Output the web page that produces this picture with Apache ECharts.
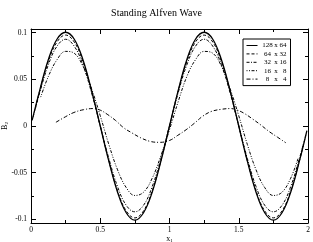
<!DOCTYPE html>
<html>
<head>
<meta charset="utf-8">
<script src="https://cdn.jsdelivr.net/npm/echarts@6/dist/echarts.min.js"></script>
<style>
html,body{margin:0;padding:0;background:#fff;}
#c{width:313px;height:242px;}
</style>
</head>
<body>
<div id="c"></div>
<script>
// ---- data ----
var seriesNames = ['128 x 64', '64 x 32', '32 x 16', '16 x  8', '8 x  4'];

var x128 = [0.008, 0.0625, 0.125, 0.1875, 0.25, 0.3125, 0.375, 0.4375, 0.5, 0.5625, 0.625, 0.6875, 0.75, 0.8125, 0.875, 0.9375, 1.0, 1.0625, 1.125, 1.1875, 1.25, 1.3125, 1.375, 1.4375, 1.5, 1.5625, 1.625, 1.6875, 1.75, 1.8125, 1.875, 1.9375, 1.992];
var y128 = [0.006, 0.038, 0.071, 0.093, 0.1005, 0.093, 0.071, 0.038, 0.0, -0.038, -0.071, -0.093, -0.101, -0.093, -0.071, -0.038, 0.0, 0.038, 0.071, 0.093, 0.1005, 0.093, 0.071, 0.038, 0.0, -0.038, -0.071, -0.093, -0.101, -0.093, -0.071, -0.038, -0.005];

var x64 = [0.0156, 0.0625, 0.125, 0.1875, 0.25, 0.3125, 0.375, 0.4375, 0.5, 0.5625, 0.625, 0.6875, 0.75, 0.8125, 0.875, 0.9375, 1.0, 1.0625, 1.125, 1.1875, 1.25, 1.3125, 1.375, 1.4375, 1.5, 1.5625, 1.625, 1.6875, 1.75, 1.8125, 1.875, 1.9375, 1.984];
var y64 = [0.0095, 0.0375, 0.069, 0.090, 0.0975, 0.090, 0.069, 0.0375, 0.0, -0.0375, -0.0695, -0.091, -0.0985, -0.091, -0.0695, -0.0375, 0.0, 0.0375, 0.069, 0.090, 0.0975, 0.090, 0.069, 0.0375, 0.0, -0.0375, -0.0695, -0.091, -0.0985, -0.091, -0.0695, -0.0375, -0.0095];

var x32 = [0.031, 0.0625, 0.125, 0.1875, 0.25, 0.3125, 0.375, 0.4375, 0.5, 0.5625, 0.625, 0.6875, 0.75, 0.8125, 0.875, 0.9375, 1.0, 1.0625, 1.125, 1.1875, 1.25, 1.3125, 1.375, 1.4375, 1.5, 1.5625, 1.625, 1.6875, 1.75, 1.8125, 1.875, 1.9375, 1.969];
var y32 = [0.018, 0.0355, 0.0655, 0.0855, 0.093, 0.0855, 0.0655, 0.0355, 0.0, -0.035, -0.065, -0.085, -0.092, -0.085, -0.065, -0.035, 0.0, 0.0355, 0.0655, 0.0855, 0.093, 0.0855, 0.0655, 0.0355, 0.0, -0.035, -0.065, -0.085, -0.092, -0.085, -0.065, -0.035, -0.018];

var x16 = [0.07, 0.125, 0.1875, 0.25, 0.3125, 0.375, 0.4375, 0.5, 0.5625, 0.625, 0.6875, 0.75, 0.8125, 0.875, 0.9375, 1.0, 1.0625, 1.125, 1.1875, 1.25, 1.3125, 1.375, 1.4375, 1.5, 1.5625, 1.625, 1.6875, 1.75, 1.8125, 1.875, 1.93];
var y16 = [0.031, 0.053, 0.071, 0.080, 0.078, 0.064, 0.040, 0.011, -0.020, -0.047, -0.066, -0.0745, -0.071, -0.056, -0.032, -0.004, 0.026, 0.053, 0.071, 0.080, 0.078, 0.064, 0.040, 0.011, -0.020, -0.047, -0.066, -0.0745, -0.071, -0.056, -0.034];

var x8 = [0.18, 0.25, 0.31, 0.38, 0.45, 0.5, 0.55, 0.61, 0.67, 0.73, 0.79, 0.86, 0.93, 1.0, 1.06, 1.12, 1.18, 1.24, 1.3, 1.37, 1.44, 1.49, 1.54, 1.6, 1.66, 1.72, 1.78, 1.84];
var y8 = [0.004, 0.010, 0.0145, 0.0175, 0.0187, 0.017, 0.0126, 0.006, -0.002, -0.0075, -0.0125, -0.0165, -0.0175, -0.0155, -0.01, -0.004, 0.003, 0.0105, 0.0155, 0.0178, 0.0187, 0.017, 0.0135, 0.0075, 0.001, -0.006, -0.012, -0.018];

var xMajorTicks = [0, 0.5, 1, 1.5, 2];
var yMajorTicks = [-0.1, -0.05, 0, 0.05, 0.1];
var yMinorTicks = [-0.075, -0.025, 0.025, 0.075];

// ---- chart ----
var FONT = '"Liberation Serif", "DejaVu Serif", serif';
function pairs(xs, ys) { return xs.map(function (x, i) { return [x, ys[i]]; }); }
var dashes = ['solid', [3, 2], [3, 1.5, 1, 1.5], [1, 1.5, 1, 1.5, 3, 1.5], [4, 2, 1, 2]];
var widths = [1.3, 1, 1, 1, 1];
var xsAll = [x128, x64, x32, x16, x8];
var ysAll = [y128, y64, y32, y16, y8];

var yMin = -0.104, yMax = 0.104;

function xAxisCfg(pos, showLabel) {
  return {
    type: 'value', position: pos, min: 0, max: 2, interval: 0.5,
    axisLine: { show: true, onZero: false, lineStyle: { color: '#000', width: 1 } },
    axisTick: { show: true, inside: true, length: 5, lineStyle: { color: '#000' } },
    minorTick: { show: true, splitNumber: 2, length: 3, lineStyle: { color: '#000' } },
    splitLine: { show: false },
    axisLabel: { show: showLabel, customValues: xMajorTicks, fontFamily: FONT, fontSize: 7.5, color: '#000', margin: 3 },
    name: showLabel ? '{n|x}{s|1}' : '',
    nameLocation: 'middle', nameGap: 11, nameMoveOverlap: false,
    nameTextStyle: { fontFamily: FONT, fontSize: 8, color: '#000',
      rich: { n: { fontFamily: FONT, fontSize: 8, color: '#000' },
              s: { fontFamily: FONT, fontSize: 5, color: '#000', padding: [4, 0, 0, 0] } } }
  };
}
function yAxisCfg(pos, major, showLabel) {
  var ticks = major ? yMajorTicks : yMinorTicks;
  return {
    type: 'value', position: pos, min: yMin, max: yMax, offset: 0,
    axisLine: { show: major, onZero: false, lineStyle: { color: '#000', width: 1 } },
    axisTick: { show: true, inside: true, length: major ? 5 : 3, customValues: ticks, lineStyle: { color: '#000' } },
    splitLine: { show: false },
    axisLabel: { show: showLabel, customValues: ticks, fontFamily: FONT, fontSize: 7.5, color: '#000', margin: 4 },
    name: showLabel ? '{n|B}{s|2}' : '',
    nameLocation: 'middle', nameGap: 22, nameRotate: 90, nameMoveOverlap: false,
    nameTextStyle: { fontFamily: FONT, fontSize: 8, color: '#000',
      rich: { n: { fontFamily: FONT, fontSize: 8, color: '#000' },
              s: { fontFamily: FONT, fontSize: 5, color: '#000', padding: [4, 0, 0, 0] } } }
  };
}

var series = seriesNames.map(function (nm, i) {
  return {
    name: nm, type: 'line', xAxisIndex: 0, yAxisIndex: 0,
    data: pairs(xsAll[i], ysAll[i]),
    smooth: 0.4, showSymbol: false, symbol: 'none',
    lineStyle: { color: '#000', width: widths[i], type: dashes[i] },
    itemStyle: { color: '#000' },
    animation: false
  };
});

var chart = echarts.init(document.getElementById('c'), null, { renderer: 'canvas' });
chart.setOption({
  animation: false,
  backgroundColor: '#fff',
  title: { text: 'Standing Alfven Wave', left: 'center', top: 3,
    textStyle: { fontFamily: FONT, fontSize: 10, fontWeight: 'normal', color: '#000' } },
  grid: { left: 31, right: 5, top: 29, bottom: 19, containLabel: false, outerBoundsMode: 'none' },
  xAxis: [xAxisCfg('bottom', true), xAxisCfg('top', false)],
  yAxis: [yAxisCfg('left', true, true), yAxisCfg('left', false, false),
          yAxisCfg('right', true, false), yAxisCfg('right', false, false)],
  legend: {
    orient: 'vertical', left: 243, top: 39,
    backgroundColor: '#fff', borderColor: '#000', borderWidth: 1, borderRadius: 0,
    padding: [3, 4, 3, 3],
    itemWidth: 11, itemHeight: 7, itemGap: 1.4,
    itemStyle: { color: 'rgba(0,0,0,0)', borderColor: 'rgba(0,0,0,0)', borderWidth: 0, opacity: 0 },
    lineStyle: { width: 1 },
    data: seriesNames,
    formatter: function (name) {
      var p = name.split('x');
      return '{a|' + p[0].trim() + '} x {b|' + p[1].trim() + '}';
    },
    textStyle: { fontFamily: FONT, fontSize: 7, color: '#000',
      rich: { a: { fontFamily: FONT, fontSize: 7, width: 10, align: 'right', color: '#000' },
              b: { fontFamily: FONT, fontSize: 7, width: 7, align: 'right', color: '#000' } } }
  },
  series: series
});
</script>
</body>
</html>
